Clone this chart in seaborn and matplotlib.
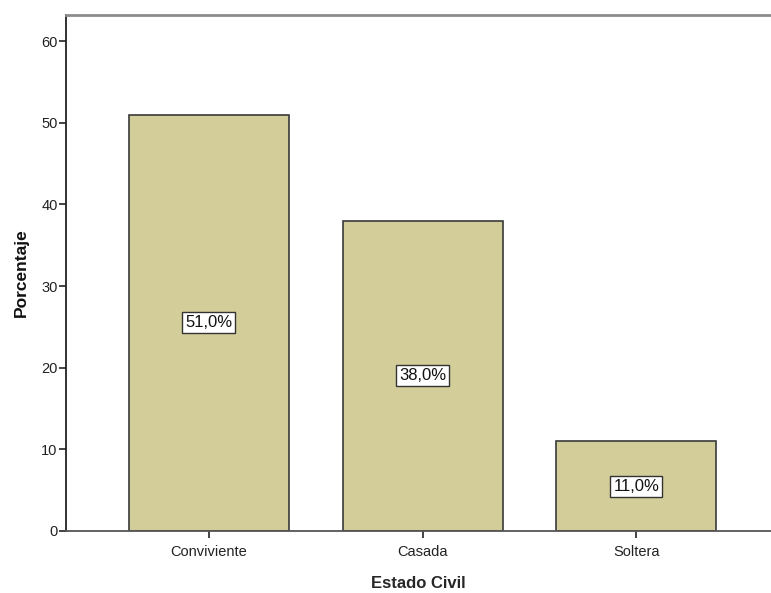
import matplotlib
matplotlib.use("Agg")
import matplotlib.pyplot as plt
import seaborn as sns
import pandas as pd

# datos
estado_civil = ["Conviviente", "Casada", "Soltera"]
porcentaje = [51.0, 38.0, 11.0]
y_ticks = [0, 10, 20, 30, 40, 50, 60]

df = pd.DataFrame({"Estado Civil": estado_civil, "Porcentaje": porcentaje})

sns.set_style("white")
plt.rcParams["font.family"] = ["Liberation Sans", "DejaVu Sans"]

fig = plt.figure(figsize=(7.71, 5.93), dpi=100)
ax = fig.add_axes([0.0856, 0.1046, 0.9144, 0.8701])

sns.barplot(data=df, x="Estado Civil", y="Porcentaje", color="#D3CE99",
            edgecolor="#3a3a3a", linewidth=1.2, width=0.748, saturation=1, ax=ax)

# etiquetas en el centro de cada barra
for i, v in enumerate(porcentaje):
    ax.text(i, v / 2, f"{v:.1f}%".replace(".", ","), ha="center", va="center",
            fontsize=12, color="#111111",
            bbox=dict(boxstyle="square,pad=0.18", facecolor="white",
                      edgecolor="#333333", linewidth=1))

ax.set_ylim(0, 63.2)
ax.set_xlim(-0.668, 2.63)
ax.set_yticks(y_ticks)
ax.tick_params(axis="both", direction="out", length=5, width=1.2,
               colors="#222222", labelsize=10.5, left=True, bottom=True)
ax.tick_params(axis="y", pad=1)
ax.tick_params(axis="x", pad=5)

ax.spines["left"].set_color("#222222")
ax.spines["left"].set_linewidth(1.3)
ax.spines["bottom"].set_color("#555555")
ax.spines["bottom"].set_linewidth(1.3)
ax.spines["top"].set_color("#8c8c8c")
ax.spines["top"].set_linewidth(2)
ax.spines["right"].set_visible(False)

ax.set_xlabel("Estado Civil", fontsize=12, fontweight="bold", labelpad=12)
ax.set_ylabel("Porcentaje", fontsize=12.5, fontweight="bold", labelpad=9,
              color="#111111")

fig.savefig("out.png", dpi=100)
